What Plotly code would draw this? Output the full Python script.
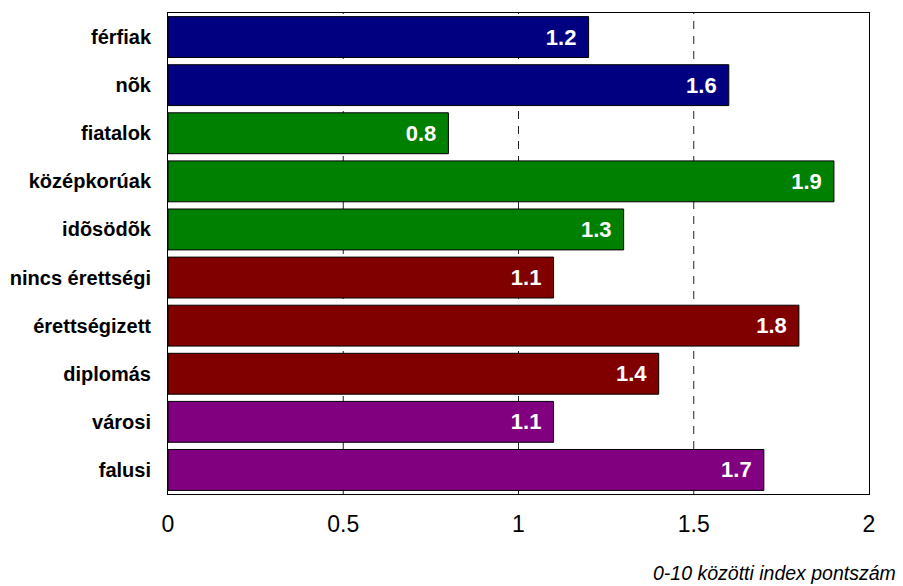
import plotly.graph_objects as go

categories = ["férfiak", "nõk", "fiatalok", "középkorúak", "idõsödõk",
              "nincs érettségi", "érettségizett", "diplomás", "városi", "falusi"]
values = [1.2, 1.6, 0.8, 1.9, 1.3, 1.1, 1.8, 1.4, 1.1, 1.7]
colors = ["#000080", "#000080", "#008000", "#008000", "#008000",
          "#800000", "#800000", "#800000", "#800080", "#800080"]
x_ticks = [0, 0.5, 1, 1.5, 2]
x_ticktext = ["0", "0.5", "1", "1.5", "2"]
x_title = "0-10 közötti index pontszám"

FONT = "Liberation Sans, Arial"

fig = go.Figure(go.Bar(
    y=categories, x=values, orientation="h",
    marker=dict(color=colors, line=dict(color="black", width=1)),
    width=0.85,
    text=[f"{v:.1f}\u2004\u200a" for v in values], textposition="inside",
    insidetextanchor="end",
    textfont=dict(family=FONT, size=22, color="white", weight="bold"),
    cliponaxis=False,
))

for xv in x_ticks[1:-1]:
    fig.add_shape(type="line", x0=xv, x1=xv, y0=0, y1=1, yref="paper",
                  line=dict(color="#222222", width=1, dash="8px,7px"), layer="below")

fig.update_layout(
    width=903, height=586,
    margin=dict(l=168, r=34, t=13, b=92, autoexpand=False),
    plot_bgcolor="white", paper_bgcolor="white",
    showlegend=False,
    font=dict(family=FONT, color="black"),
    xaxis=dict(range=[0, 2], tickvals=x_ticks, ticktext=x_ticktext,
               showgrid=False, zeroline=False, showline=True, mirror=True,
               linecolor="black", linewidth=1, ticks="", tickfont=dict(size=23),
               ticklabelstandoff=9, automargin=False),
    yaxis=dict(range=[9.5, -0.5], autorange=False, showgrid=False, zeroline=False,
               showline=True, mirror=True, linecolor="black", linewidth=1,
               tickfont=dict(size=20, weight="bold"), ticks="", ticklabelstandoff=12,
               automargin=False),
    annotations=[dict(text=x_title, x=(898 - 168) / 701, xref="paper",
                      y=-(573 - 494) / 481, yref="paper",
                      xanchor="right", yanchor="middle", showarrow=False,
                      font=dict(size=19.5, style="italic"))],
    uniformtext=dict(mode="show", minsize=10),
)

fig.write_html("out.html")
